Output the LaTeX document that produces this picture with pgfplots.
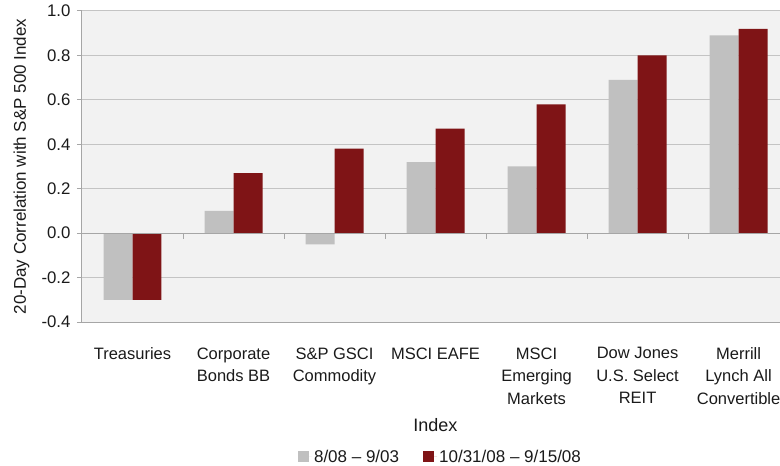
\documentclass[border=0pt]{standalone}
\usepackage{pgfplots}
\pgfplotsset{compat=1.18}
\usepackage{fontspec}
\setmainfont{Liberation Sans}
\definecolor{bgc}{HTML}{F2F2F2}
\definecolor{gridc}{HTML}{C4C4C4}
\definecolor{axc}{HTML}{A6A6A6}
\definecolor{barg}{HTML}{C0C0C0}
\definecolor{barr}{HTML}{7F1416}
\definecolor{txt}{HTML}{1A1A1A}
\begin{document}
\begin{tikzpicture}
\begin{axis}[
  name=main,
  scale only axis, width=698pt, height=311pt,
  xmin=-0.5, xmax=6.41, ymin=-0.4, ymax=1.0,
  ybar=0pt, bar width=0.287,
  axis x line*=bottom, axis y line*=left,
  axis line style={axc, line width=1pt},
  axis background/.style={fill=bgc},
  ymajorgrids, grid style={gridc, line width=1pt},
  ytick={-0.4,-0.2,0,0.2,0.4,0.6,0.8,1.0},
  /pgf/number format/assume math mode=true,
  yticklabel style={/pgf/number format/fixed, /pgf/number format/fixed zerofill, /pgf/number format/precision=1, font=\fontsize{16.8}{20}\selectfont, text=txt, xshift=-3pt},
  xtick={0,1,2,3,4,5,6},
  xticklabels={Treasuries, {Corporate\\Bonds BB}, {S\&P GSCI\\Commodity}, MSCI EAFE, {MSCI\\Emerging\\Markets}, {Dow Jones\\U.S. Select\\REIT}, {Merrill\\Lynch All\\Convertible}},
  xticklabel style={align=center, font=\fontsize{16.5}{22.5}\selectfont, text=txt, yshift=-17pt},
  x tick style={draw=none},
  y tick style={axc, line width=1pt},
  tick align=outside, major tick length=5pt,
  ylabel={20-Day Correlation with S\&P 500 Index},
  ylabel style={at={(axis description cs:-0.0867,0.5)}, anchor=center, font=\fontsize{17}{20}\selectfont, text=txt},
  xlabel={Index},
  xlabel style={at={(axis description cs:0.5064,-0.331)}, anchor=center, font=\fontsize{18}{20}\selectfont, text=txt},
  legend style={at={(axis description cs:0.5136,-0.434)}, anchor=center, draw=none, fill=none, font=\fontsize{17}{20}\selectfont, text=txt, /tikz/every even column/.append style={column sep=22pt}},
  legend columns=2,
  legend image code/.code={\path (0pt,0pt) -- (14pt,0pt); \fill[#1] (0pt,-5.5pt) rectangle (11pt,5.5pt);},
]
\addplot[fill=barg, draw=none] coordinates {(0,-0.30) (1,0.10) (2,-0.05) (3,0.32) (4,0.30) (5,0.69) (6,0.89)};
\addplot[fill=barr, draw=none] coordinates {(0,-0.30) (1,0.27) (2,0.38) (3,0.47) (4,0.58) (5,0.80) (6,0.92)};
\legend{8/08 – 9/03, 10/31/08 – 9/15/08}
\draw[axc, line width=1pt] (axis cs:-0.5,0) -- (axis cs:6.41,0);
\draw[axc, line width=1pt] (axis cs:0.5,0) -- (axis cs:0.5,-0.027);
\draw[axc, line width=1pt] (axis cs:1.5,0) -- (axis cs:1.5,-0.027);
\draw[axc, line width=1pt] (axis cs:2.5,0) -- (axis cs:2.5,-0.027);
\draw[axc, line width=1pt] (axis cs:3.5,0) -- (axis cs:3.5,-0.027);
\draw[axc, line width=1pt] (axis cs:4.5,0) -- (axis cs:4.5,-0.027);
\draw[axc, line width=1pt] (axis cs:5.5,0) -- (axis cs:5.5,-0.027);
\end{axis}
\pgfresetboundingbox
\path[use as bounding box] ([xshift=-82pt,yshift=-144pt]main.south west) rectangle ([yshift=11pt]main.north east);
\end{tikzpicture}
\end{document}
